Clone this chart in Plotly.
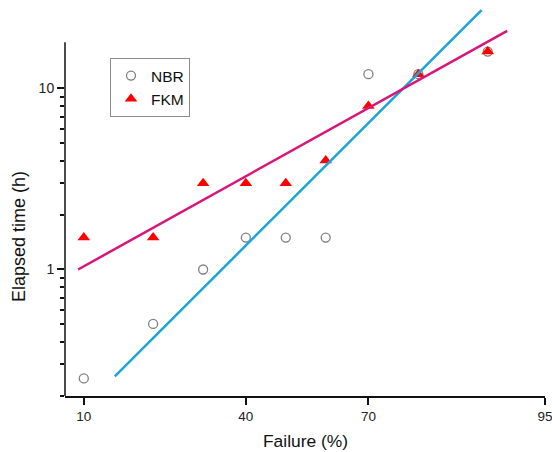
import math
from statistics import NormalDist
import plotly.graph_objects as go

# ---- data ----
failure_pct = [10, 20, 30, 40, 50, 60, 70, 80, 90]
nbr_hours = [0.25, 0.5, 1.0, 1.5, 1.5, 1.5, 12, 12, 16]
fkm_hours = [1.5, 1.5, 3, 3, 3, 4, 8, 12, 16]

# fitted lines (endpoints, in data units)
nbr_fit_pct = [13.9, 89.3]
nbr_fit_hours = [0.257, 27.1]
fkm_fit_pct = [9.38, 92.0]
fkm_fit_hours = [1.0, 20.8]

x_tick_pct = [10, 40, 70, 95]
x_tick_text = ["10", "40", "70", "95"]
y_tick_vals = [1, 10]
y_tick_text = ["1", "10"]
y_minor_vals = [0.2, 0.3, 0.4, 0.5, 0.6, 0.7, 0.8, 0.9, 2, 3, 4, 5, 6, 7, 8, 9]
y_axis_span = [0.2, 18]

# normal-probability transform for the x axis
nd = NormalDist()
def z(p):
    return nd.inv_cdf(p / 100.0)

FONT = "Arial, Liberation Sans, sans-serif"
PINK = "#D9157A"
BLUE = "#1BA3DD"

fig = go.Figure()

fig.add_trace(go.Scatter(
    x=[z(p) for p in failure_pct], y=nbr_hours, mode="markers", name="NBR",
    marker=dict(symbol="circle-open", size=9, color="#808080", line=dict(width=1.3)),
))
fig.add_trace(go.Scatter(
    x=[z(p) for p in failure_pct], y=fkm_hours, mode="markers", name="FKM",
    marker=dict(symbol="triangle-up", size=11, color="#FF0000"),
))
fig.add_trace(go.Scatter(
    x=[z(p) for p in nbr_fit_pct], y=nbr_fit_hours, mode="lines", showlegend=False,
    line=dict(color=BLUE, width=2.5),
))
fig.add_trace(go.Scatter(
    x=[z(p) for p in fkm_fit_pct], y=fkm_fit_hours, mode="lines", showlegend=False,
    line=dict(color=PINK, width=2.5),
))

x_right = z(95) + 1e-4
x_left = z(95) - (z(95) - z(10)) * (480.0 / 461.2)
y_bottom = math.log10(0.2)
decade_px = 181.0
y_top = y_bottom + 388.0 / decade_px

fig.update_layout(
    width=552, height=452,
    margin=dict(l=65, r=7, t=8, b=56),
    paper_bgcolor="white", plot_bgcolor="white",
    font=dict(family=FONT, color="#222222"),
    showlegend=True,
    legend=dict(
        x=(110 - 65) / 480.0, y=(396 - 58) / 388.0, xanchor="left", yanchor="top",
        bordercolor="#8c8c8c", borderwidth=1, bgcolor="white",
        font=dict(family=FONT, size=15.5, color="#111111"),
        tracegroupgap=0,
    ),
    xaxis=dict(
        range=[x_left, x_right], showgrid=False, zeroline=False, automargin=False,
        showline=True, linecolor="#111111", linewidth=1.5,
        ticks="outside", ticklen=7, tickwidth=1.5, tickcolor="#111111",
        tickmode="array", tickvals=[z(p) for p in x_tick_pct], ticktext=x_tick_text,
        tickfont=dict(family=FONT, size=13.5, color="#222222"),
        ticklabeloverflow="allow",
    ),
    yaxis=dict(
        type="log", range=[y_bottom, y_top], showgrid=False, zeroline=False,
        showline=False, automargin=False,
        ticks="outside", ticklen=7, tickwidth=1.5, tickcolor="#111111",
        tickmode="array", tickvals=y_tick_vals, ticktext=y_tick_text,
        tickfont=dict(family=FONT, size=14, color="#222222"),
        ticklabeloverflow="allow",
        minor=dict(ticks="outside", ticklen=4, tickwidth=1.5, tickcolor="#111111",
                   tickmode="array", tickvals=y_minor_vals, showgrid=False),
    ),
    shapes=[dict(type="line", xref="paper", yref="y", x0=0, x1=0,
                 y0=y_axis_span[0], y1=y_axis_span[1],
                 line=dict(color="#111111", width=1.5))],
    annotations=[
        dict(text="Failure (%)", xref="paper", yref="paper",
             x=0.5, y=(396 - 441) / 388.0, xanchor="center", yanchor="middle",
             showarrow=False, font=dict(family=FONT, size=17.4, color="#111111")),
        dict(text="Elapsed time (h)", xref="paper", yref="paper", textangle=-90,
             x=(19 - 65) / 480.0, y=(396 - 237) / 388.0, xanchor="center", yanchor="middle",
             showarrow=False, font=dict(family=FONT, size=18, color="#111111")),
    ],
)

fig.write_html("out.html", config={"displayModeBar": False},
               post_script="document.body.style.margin='0';")
